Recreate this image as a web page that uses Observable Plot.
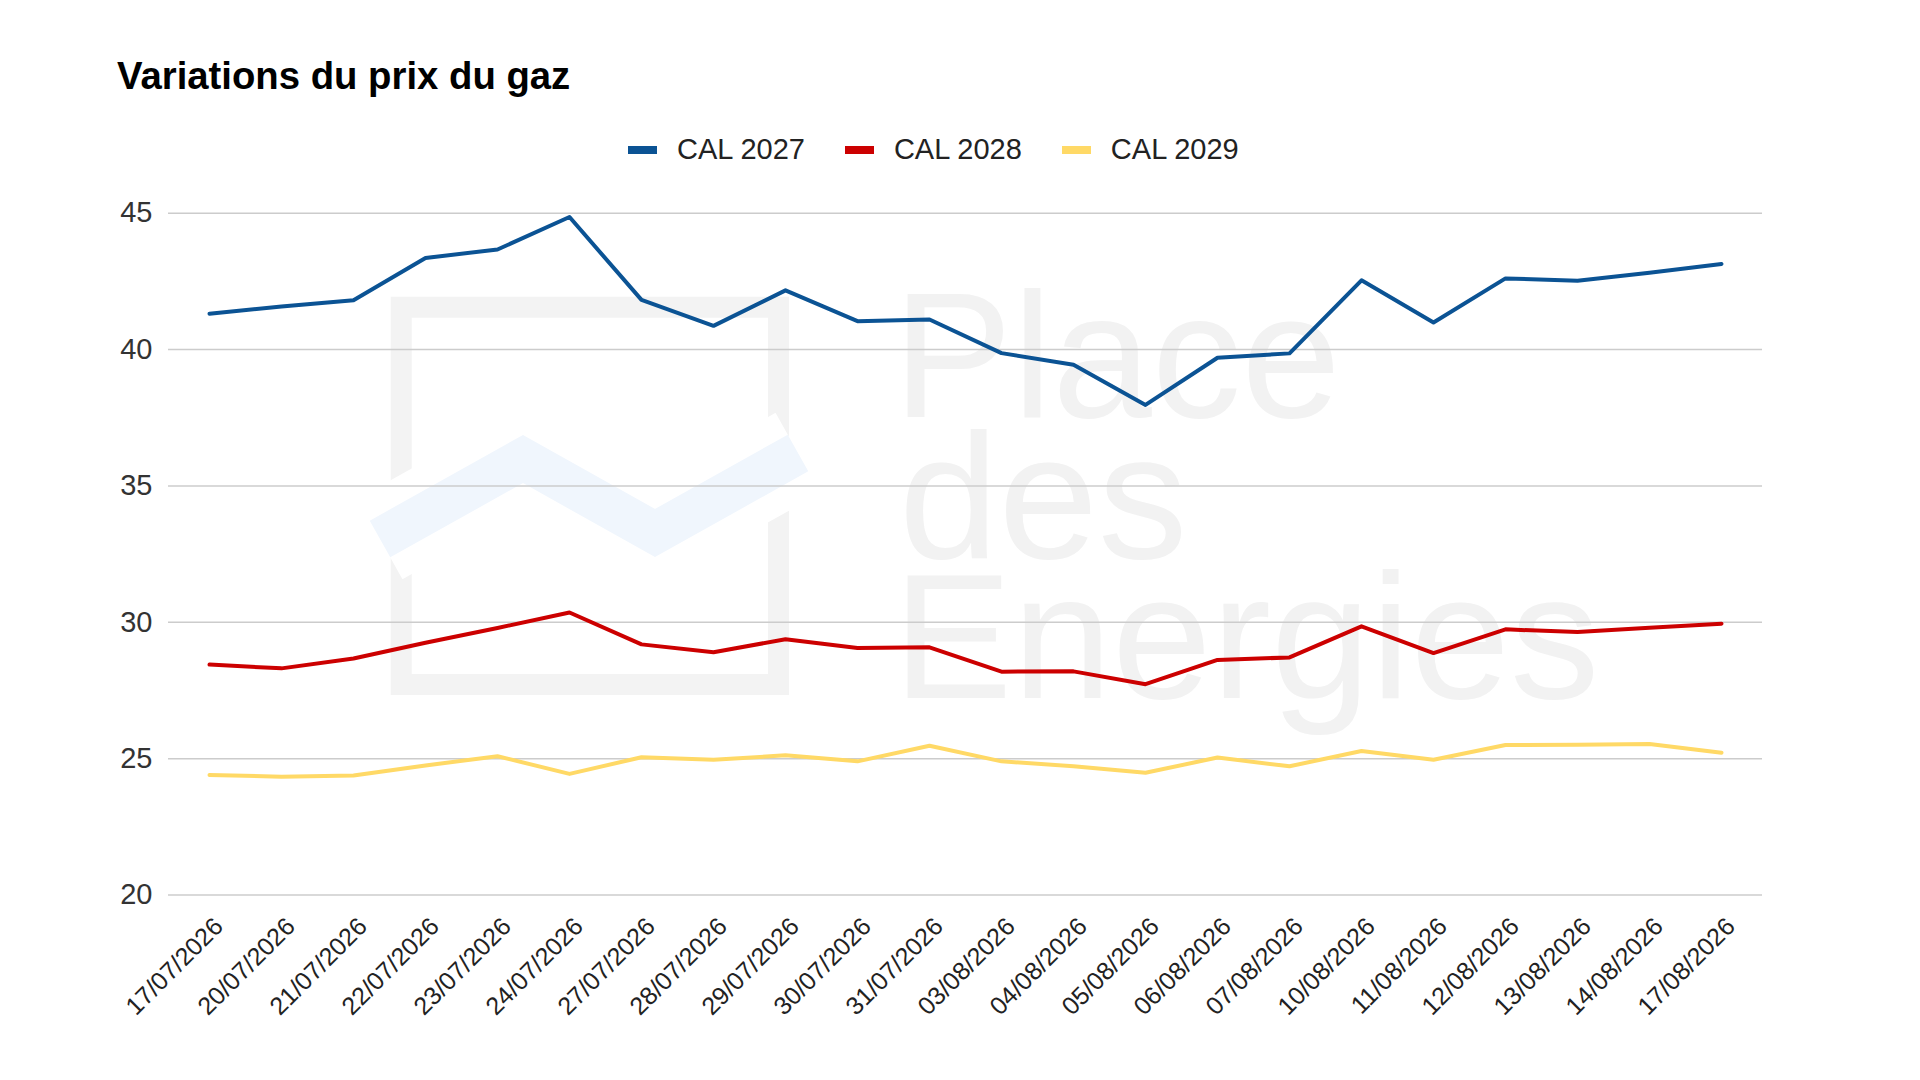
<!DOCTYPE html>
<html>
<head>
<meta charset="utf-8">
<script src="https://cdn.jsdelivr.net/npm/d3@7"></script>
<script src="https://cdn.jsdelivr.net/npm/@observablehq/plot@0.6"></script>
<style>
  html, body { margin: 0; padding: 0; background: #ffffff; }
  #wrap { position: relative; width: 1920px; height: 1080px; overflow: hidden; font-family: "Liberation Sans", Arial, sans-serif; }
  #watermark { position: absolute; left: 0; top: 0; z-index: 0; }
  .wm { position: absolute; z-index: 0; font-size: 179px; line-height: 130px; height: 130px; color: #f2f2f2; white-space: nowrap; }
  #chart { position: absolute; left: 0; top: 180px; z-index: 1; }
  #title { position: absolute; left: 117px; top: 57px; font-size: 38.3px; line-height: 38px; font-weight: bold; color: #000; z-index: 2; white-space: nowrap; }
  #legend { position: absolute; left: 628px; top: 135px; display: flex; align-items: center; z-index: 2; }
  .item { display: flex; align-items: center; margin-right: 40px; }
  .swatch { width: 29px; height: 8px; margin-right: 20px; }
  .label { font-size: 29px; line-height: 29px; color: #222; white-space: nowrap; }
</style>
</head>
<body>
<div id="wrap">
  <svg id="watermark" width="1920" height="1080" xmlns="http://www.w3.org/2000/svg">
    <rect x="401.2" y="307.2" width="377.3" height="377.3" fill="none" stroke="#f3f3f3" stroke-width="21"/>
    <polyline points="380,539 523,459 655,533 798,453" fill="none" stroke="#ffffff" stroke-width="92" stroke-linejoin="miter"/>
    <polyline points="380,539 523,459 655,533 798,453" fill="none" stroke="#f0f6fd" stroke-width="42" stroke-linejoin="miter"/>
  </svg>
  <div class="wm" style="left:893px; top:290px;">Place</div>
  <div class="wm" style="left:899px; top:431px;">des</div>
  <div class="wm" style="left:893px; top:571px;">Energies</div>
  <div id="title">Variations du prix du gaz</div>
  <div id="legend"></div>
  <div id="chart"></div>
</div>
<script>
// ---- data ----
const dates = ["17/07/2026","20/07/2026","21/07/2026","22/07/2026","23/07/2026","24/07/2026","27/07/2026","28/07/2026","29/07/2026","30/07/2026","31/07/2026","03/08/2026","04/08/2026","05/08/2026","06/08/2026","07/08/2026","10/08/2026","11/08/2026","12/08/2026","13/08/2026","14/08/2026","17/08/2026"];
const cal2027 = [41.31,41.58,41.81,43.36,43.67,44.86,41.82,40.87,42.17,41.04,41.10,39.87,39.44,37.97,39.70,39.86,42.54,40.99,42.61,42.52,42.82,43.14];
const cal2028 = [28.45,28.31,28.67,29.25,29.79,30.36,29.19,28.90,29.38,29.06,29.08,28.19,28.20,27.73,28.62,28.71,29.85,28.87,29.74,29.64,29.80,29.95];
const cal2029 = [24.40,24.34,24.38,24.75,25.09,24.44,25.05,24.96,25.12,24.90,25.47,24.90,24.72,24.48,25.04,24.72,25.28,24.96,25.50,25.51,25.54,25.22];
const seriesNames = ["CAL 2027","CAL 2028","CAL 2029"];
const seriesColors = ["#0b5394","#cc0000","#ffd966"];
const yTicks = [20,25,30,35,40,45];

// ---- build table ----
const seriesValues = [cal2027, cal2028, cal2029];
const rows = [];
seriesNames.forEach((name, s) => {
  dates.forEach((d, i) => rows.push({date: d, value: seriesValues[s][i], series: name}));
});

// ---- legend ----
const legend = document.getElementById("legend");
seriesNames.forEach((name, i) => {
  const item = document.createElement("div");
  item.className = "item";
  const sw = document.createElement("div");
  sw.className = "swatch";
  sw.style.background = seriesColors[i];
  const lb = document.createElement("div");
  lb.className = "label";
  lb.textContent = name;
  item.appendChild(sw);
  item.appendChild(lb);
  legend.appendChild(item);
});

// ---- chart ----
const chart = Plot.plot({
  width: 1920,
  height: 900,
  marginTop: 32.7,
  marginBottom: 185.5,
  marginLeft: 168,
  marginRight: 158,
  style: {background: "transparent", fontFamily: "Liberation Sans, Arial, sans-serif"},
  x: {type: "point", domain: dates, padding: 0.5, axis: null},
  y: {domain: [20, 45], axis: null},
  color: {domain: seriesNames, range: seriesColors},
  marks: [
    Plot.gridY(yTicks, {stroke: "#cccccc", strokeOpacity: 1, strokeWidth: 1.5}),
    Plot.axisY(yTicks, {tickSize: 0, tickPadding: 16, fontSize: 29, fill: "#333333", label: null}),
    Plot.text(dates, {
      x: d => d,
      text: d => d,
      frameAnchor: "bottom",
      rotate: -45,
      textAnchor: "end",
      lineAnchor: "bottom",
      dx: 15,
      dy: 33,
      fontSize: 25,
      fill: "#222222"
    }),
    Plot.line(rows, {x: "date", y: "value", z: "series", stroke: "series", strokeWidth: 4, strokeLinejoin: "round", curve: "linear"})
  ]
});
document.getElementById("chart").appendChild(chart);
</script>
</body>
</html>
